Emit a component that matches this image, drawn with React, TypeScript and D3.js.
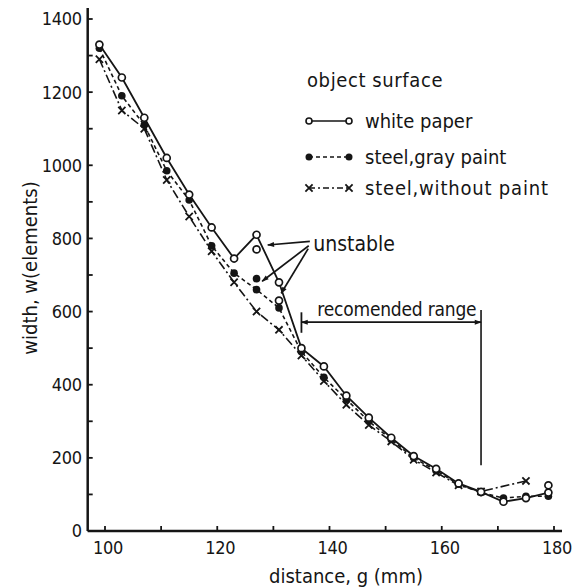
import * as d3 from 'd3'

// distance g (mm) at which each width was measured
const distance = [99, 103, 107, 111, 115, 119, 123, 127, 131, 135, 139, 143, 147, 151, 155, 159, 163, 167, 171, 175, 179]
const whitePaper = [1330, 1240, 1130, 1020, 920, 830, 745, 810, 680, 500, 450, 370, 310, 255, 205, 170, 130, 107, 80, 90, 105]
const grayPaint = [1320, 1190, 1110, 985, 905, 780, 705, 660, 610, 490, 420, 360, 300, 250, 200, 165, 128, 105, 90, 95, 95]
const noPaint = [1290, 1150, 1100, 960, 860, 765, 680, 600, 550, 480, 410, 345, 290, 245, 195, 160, 125, 108, null, 137, null]

// extra (unstable) readings
const whiteExtraX = [127, 131, 179]
const whiteExtraY = [770, 630, 125]
const grayExtraX = [127]
const grayExtraY = [690]

const xTickLabels = [100, 120, 140, 160, 180]
const xTickMarks = [100, 110, 120, 130, 140, 150, 160, 170, 180]
const yTickLabels = [0, 200, 400, 600, 800, 1000, 1200, 1400]
const yTickMarks = [0, 100, 200, 300, 400, 500, 600, 700, 800, 900, 1000, 1100, 1200, 1300, 1400]

const legendLabels = ['white paper', 'steel,gray paint', 'steel,without paint']
const recommended = [135, 167]

const FONT = "'DejaVu Sans Condensed', 'DejaVu Sans', sans-serif"
const INK = '#151515'

const x = d3.scaleLinear().domain([100, 180]).range([105, 554])
const y = d3.scaleLinear().domain([0, 1400]).range([531, 19])

function pts(vals: (number | null)[]) {
  return distance
    .map((d, i) => [d, vals[i]] as [number, number | null])
    .filter((p) => p[1] != null) as [number, number][]
}

const line = d3
  .line<[number, number]>()
  .x((d) => x(d[0]))
  .y((d) => y(d[1]))

function Cross({ cx, cy }: { cx: number; cy: number }) {
  const s = 3.6
  return (
    <path
      d={`M${cx - s},${cy - s}L${cx + s},${cy + s}M${cx - s},${cy + s}L${cx + s},${cy - s}`}
      stroke={INK}
      strokeWidth={1.8}
    />
  )
}

export default function App() {
  const x0 = x.invert(87.7)
  const x1 = x.invert(562)
  const yTop = y.invert(8)
  const legX = 307
  const legRows = [121, 157, 188]

  return (
    <div style={{ position: 'absolute', left: 0, top: 0 }}>
      <svg width={581} height={588} style={{ display: 'block', background: '#fff' }} fontFamily={FONT}>
        <defs>
          <marker id="arr" viewBox="0 0 10 10" refX={9} refY={5} markerWidth={10} markerHeight={7} orient="auto-start-reverse" markerUnits="userSpaceOnUse">
            <path d="M0,1.5L10,5L0,8.5Z" fill={INK} />
          </marker>
        </defs>

        {/* axes */}
        <line x1={x(x0)} x2={x(x0)} y1={y(0)} y2={y(yTop)} stroke={INK} strokeWidth={2.5} />
        <line x1={x(x0)} x2={x(x1)} y1={y(0)} y2={y(0)} stroke={INK} strokeWidth={2.5} />
        {yTickMarks.map((t) => (
          <line key={'yt' + t} x1={x(x0)} x2={x(x0) + 5} y1={y(t)} y2={y(t)} stroke={INK} strokeWidth={1.8} />
        ))}
        {yTickLabels.map((t) => (
          <text key={'yl' + t} x={x(x0) - 6} y={y(t)} dy="0.36em" textAnchor="end" fontSize={18} letterSpacing={-0.3} fill={INK}>
            {t}
          </text>
        ))}
        {xTickMarks.map((t) => (
          <line key={'xt' + t} x1={x(t)} x2={x(t)} y1={y(0)} y2={y(0) - 5} stroke={INK} strokeWidth={1.8} />
        ))}
        {xTickLabels.map((t) => (
          <text key={'xl' + t} x={x(t) + 3} y={y(0) + 23} textAnchor="middle" fontSize={18} letterSpacing={-0.3} fill={INK}>
            {t}
          </text>
        ))}
        <text x={346} y={583} textAnchor="middle" fontSize={20} fill={INK}>
          distance, g (mm)
        </text>
        <text transform="translate(37,268) rotate(-90)" textAnchor="middle" fontSize={20} fill={INK}>
          width, w(elements)
        </text>

        {/* series */}
        <path d={line(pts(noPaint)) ?? ''} fill="none" stroke={INK} strokeWidth={1.6} strokeDasharray="9,3,2,3" />
        <path d={line(pts(grayPaint)) ?? ''} fill="none" stroke={INK} strokeWidth={1.6} strokeDasharray="4,3" />
        <path d={line(pts(whitePaper)) ?? ''} fill="none" stroke={INK} strokeWidth={1.8} />

        {distance.map((d, i) =>
          noPaint[i] == null ? null : <Cross key={'np' + i} cx={x(d)} cy={y(noPaint[i] as number)} />
        )}
        {distance.map((d, i) => (
          <circle key={'gp' + i} cx={x(d)} cy={y(grayPaint[i])} r={3.8} fill={INK} />
        ))}
        {grayExtraX.map((d, i) => (
          <circle key={'ge' + i} cx={x(d)} cy={y(grayExtraY[i])} r={3.8} fill={INK} />
        ))}
        {distance.map((d, i) => (
          <circle key={'wp' + i} cx={x(d)} cy={y(whitePaper[i])} r={3.5} fill="#fff" stroke={INK} strokeWidth={1.7} />
        ))}
        {whiteExtraX.map((d, i) => (
          <circle key={'we' + i} cx={x(d)} cy={y(whiteExtraY[i])} r={3.5} fill="#fff" stroke={INK} strokeWidth={1.7} />
        ))}

        {/* unstable annotation */}
        <text x={x(137.1)} y={y(787)} dy="0.35em" fontSize={21} fill={INK}>
          unstable
        </text>
        <line x1={x(136.5)} y1={y(792)} x2={x(129)} y2={y(782)} stroke={INK} strokeWidth={1.7} markerEnd="url(#arr)" />
        <line x1={x(136.3)} y1={y(780)} x2={x(128)} y2={y(683)} stroke={INK} strokeWidth={1.7} markerEnd="url(#arr)" />
        <line x1={x(136.2)} y1={y(772)} x2={x(131.4)} y2={y(650)} stroke={INK} strokeWidth={1.7} markerEnd="url(#arr)" />

        {/* recommended range */}
        <line x1={x(recommended[0])} x2={x(recommended[0])} y1={y(598)} y2={y(542)} stroke={INK} strokeWidth={1.8} />
        <line
          x1={x(recommended[0])}
          x2={x(recommended[1])}
          y1={y(571)}
          y2={y(571)}
          stroke={INK}
          strokeWidth={1.7}
          markerStart="url(#arr)"
          markerEnd="url(#arr)"
        />
        <line x1={x(recommended[1])} x2={x(recommended[1])} y1={y(604)} y2={y(180)} stroke={INK} strokeWidth={1.6} />
        <text x={x(152)} y={y(587)} textAnchor="middle" fontSize={19} letterSpacing={-0.2} fill={INK}>
          recomended range
        </text>

        {/* legend */}
        <text x={legX} y={87} fontSize={20} letterSpacing={0.6} fill={INK}>
          object surface
        </text>
        {legendLabels.map((lab, i) => (
          <g key={lab}>
            <line
              x1={legX + 2}
              x2={legX + 42}
              y1={legRows[i]}
              y2={legRows[i]}
              stroke={INK}
              strokeWidth={1.7}
              strokeDasharray={i === 0 ? undefined : i === 1 ? '4,3' : '6,3,2,3'}
            />
            {i === 0 && (
              <>
                <circle cx={legX + 2} cy={legRows[i]} r={3} fill="#fff" stroke={INK} strokeWidth={1.6} />
                <circle cx={legX + 42} cy={legRows[i]} r={3} fill="#fff" stroke={INK} strokeWidth={1.6} />
              </>
            )}
            {i === 1 && (
              <>
                <circle cx={legX + 2} cy={legRows[i]} r={3.5} fill={INK} />
                <circle cx={legX + 42} cy={legRows[i]} r={3.5} fill={INK} />
              </>
            )}
            {i === 2 && (
              <>
                <Cross cx={legX + 2} cy={legRows[i]} />
                <Cross cx={legX + 42} cy={legRows[i]} />
              </>
            )}
            <text x={legX + 58} y={legRows[i]} dy="0.35em" fontSize={20} letterSpacing={i === 2 ? 0.8 : 0} fill={INK}>
              {lab}
            </text>
          </g>
        ))}
      </svg>
    </div>
  )
}
